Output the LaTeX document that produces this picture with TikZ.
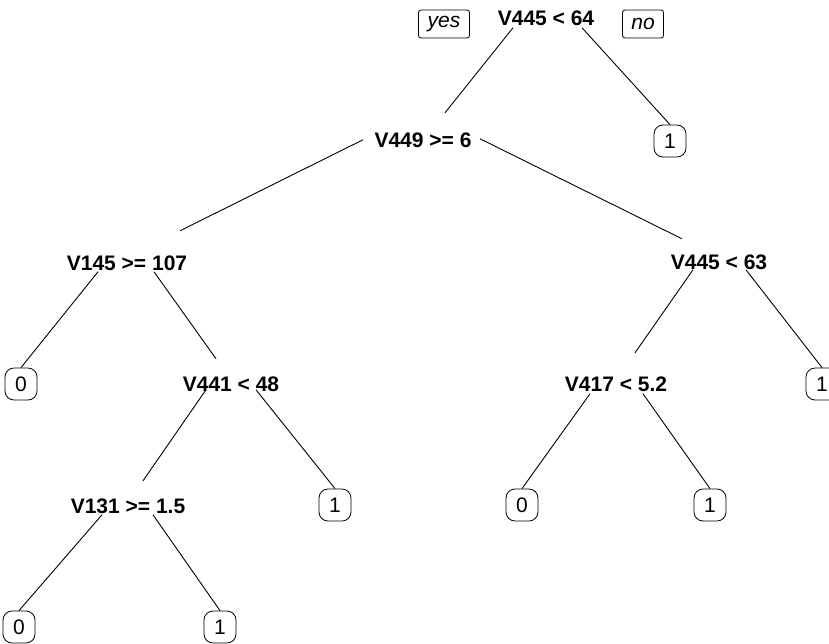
\documentclass[tikz,border=0pt]{standalone}
\usepackage{fontspec}
\setmainfont{Liberation Sans}
\usetikzlibrary{calc}

\tikzset{
  split/.style={font=\fontsize{21}{24}\selectfont\bfseries, inner sep=0pt, anchor=base},
  leaf/.style={draw, rounded corners=9pt, minimum width=32pt, minimum height=32pt,
               inner sep=0pt, font=\fontsize{21}{24}\selectfont, line width=0.8pt},
  tag/.style={draw, rounded corners=2.5pt, minimum height=28pt, inner sep=0pt,
              font=\fontsize{21}{24}\selectfont\itshape, line width=0.8pt},
  branch/.style={line width=0.9pt}
}

\begin{document}
\begin{tikzpicture}[x=1pt, y=-1pt]
  \useasboundingbox (0,0) rectangle (829,643);

  % split labels (placed by baseline)
  \node[split] (r)    at (546,25)  {V445 < 64};
  \node[split] (v449) at (423,147) {V449 >= 6};
  \node[split] (v145) at (127,270) {V145 >= 107};
  \node[split] (v63)  at (719,269) {V445 < 63};
  \node[split] (v441) at (231,391) {V441 < 48};
  \node[split] (v417) at (616,391) {V417 < 5.2};
  \node[split] (v131) at (128,513) {V131 >= 1.5};

  % yes / no tags beside the root
  \node[tag, minimum width=51pt] (yes) at (444,24) {yes};
  \node[tag, minimum width=41pt] (no)  at (643,24) {no};

  % leaves
  \node[leaf] (l1) at (670,141) {1};
  \node[leaf] (l2) at (21,384)  {0};
  \node[leaf] (l3) at (822,384) {1};
  \node[leaf] (l4) at (335,505) {1};
  \node[leaf] (l5) at (522,505) {0};
  \node[leaf] (l6) at (710,505) {1};
  \node[leaf] (l7) at (19,627)  {0};
  \node[leaf] (l8) at (220,627) {1};

  % branches
  \draw[branch] ($(r)+(-33,10)$)    -- ($(v449)+(22,-27)$);
  \draw[branch] ($(r)+(36,10)$)     -- (l1.north);
  \draw[branch] ($(v449)+(-60,0)$)  -- ($(v145)+(53,-32)$);
  \draw[branch] ($(v449)+(57,-1)$)  -- ($(v63)+(-37,-23)$);
  \draw[branch] ($(v145)+(-29,9)$)  -- (l2.north);
  \draw[branch] ($(v145)+(27,9)$)   -- ($(v441)+(-15,-25)$);
  \draw[branch] ($(v441)+(-25,6)$)  -- ($(v131)+(15,-25)$);
  \draw[branch] ($(v441)+(25,6)$)   -- (l4.north);
  \draw[branch] ($(v131)+(-26,9)$)  -- (l7.north);
  \draw[branch] ($(v131)+(25,9)$)   -- (l8.north);
  \draw[branch] ($(v63)+(-26,8)$)   -- ($(v417)+(19,-31)$);
  \draw[branch] ($(v63)+(27,8)$)    -- (l3.north);
  \draw[branch] ($(v417)+(-26,10)$) -- (l5.north);
  \draw[branch] ($(v417)+(27,10)$)  -- (l6.north);
\end{tikzpicture}
\end{document}
